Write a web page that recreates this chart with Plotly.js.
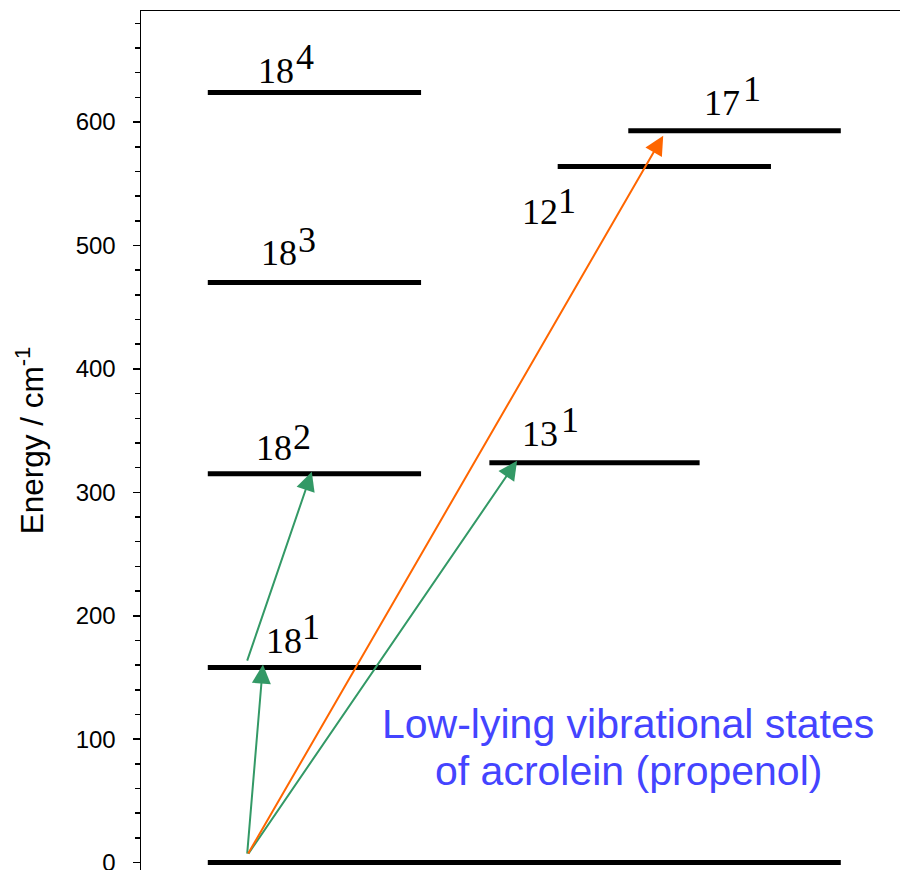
<!DOCTYPE html>
<html><head><meta charset="utf-8">
<script src="https://cdn.plot.ly/plotly-3.0.1.min.js"></script>
<style>html,body{margin:0;padding:0;background:#fff}#chart{width:900px;height:870px}</style>
</head><body><div id="chart"></div>
<script>
// ---------- data ----------
const stateNames    = ['ground', '18^1', '18^2', '18^3', '18^4', '13^1', '12^1', '17^1'];
const labelBase     = ['',  '18', '18', '18', '18', '13', '12', '17'];
const labelSup      = ['',  '1',  '2',  '3',  '4',  '1',  '1',  '1'];
const stateEnergies = [0, 158, 315, 470, 624, 324, 564, 593];   // cm^-1

const transitionFrom  = [0, 1, 0, 0];
const transitionTo    = [1, 2, 5, 7];
const transitionColor = ['green', 'green', 'green', 'orange'];

const yTickVals = [0, 100, 200, 300, 400, 500, 600];
const yTickText = ['0', '100', '200', '300', '400', '500', '600'];

const titleText  = 'Energy / cm<sup>-1</sup>';
const noteLines  = ['Low-lying vibrational states', 'of acrolein (propenol)'];

// ---------- layout / placement (not data) ----------
const W = 900, H = 870, M = {l: 141, r: 0, t: 11, b: 0};
const Y_RANGE = [-6, 690], X_RANGE = [0, 100];
const pxPerE = (H - M.t - M.b) / (Y_RANGE[1] - Y_RANGE[0]);
const px2e = p => p / pxPerE;

const levelX0 = [8.8, 8.8, 8.8, 8.8, 8.8, 45.9, 54.9, 64.2];
const levelX1 = [92.2, 36.9, 36.9, 36.9, 36.9, 73.6, 83.0, 92.2];

// label placement: base box-left x, sup box-left x, baseline gap above level (px), sup raise (px)
const labelX     = [0, 16.2, 14.9, 15.55, 15.15, 49.9, 49.9, 73.9];
const labelSupX  = [0, 20.9, 19.75, 20.4, 20.2, 55.05, 54.7, 79.1];
const labelGapPx = [0, 15, 14, 18, 9, 17, -57, 16];
const supRaisePx = [0, 14, 11, 13, 14, 14, 11, 14];
const BASE_DESC = 10;   // box bottom below baseline

const arrowTailX = [13.97, 13.9, 13.97, 13.97];
const arrowHeadX = [16.07, 22.5, 49.55, 68.8];
const arrowTailGapPx = [7, 5, 7, 7];
const arrowHeadGapPx = [3, 2, 2, -5];

const COLORS = {green: '#339966', orange: '#ff6600'};
const SANS = 'Liberation Sans, Arial, sans-serif';
const SERIF = 'Liberation Serif, Times New Roman, serif';

// ---------- traces ----------
const traces = stateEnergies.map((e, i) => ({
  type: 'scatter', mode: 'lines', name: stateNames[i],
  x: [levelX0[i], levelX1[i]], y: [e, e],
  line: {color: '#000', width: 5},
  hoverinfo: 'skip', showlegend: false
}));

// ---------- annotations ----------
const ann = [];
stateEnergies.forEach((e, i) => {
  if (!labelBase[i]) return;
  ann.push({x: labelX[i], y: e, xref: 'x', yref: 'y', xanchor: 'left', yanchor: 'bottom',
    yshift: labelGapPx[i] - BASE_DESC, text: labelBase[i], showarrow: false,
    font: {family: SERIF, size: 36, color: '#000'}});
  ann.push({x: labelSupX[i], y: e, xref: 'x', yref: 'y', xanchor: 'left', yanchor: 'bottom',
    yshift: labelGapPx[i] + supRaisePx[i] - BASE_DESC, text: labelSup[i], showarrow: false,
    font: {family: SERIF, size: 36, color: '#000'}});
});
transitionFrom.forEach((f, k) => {
  const t = transitionTo[k];
  ann.push({
    x: arrowHeadX[k], y: stateEnergies[t] + px2e(arrowHeadGapPx[k]),
    ax: arrowTailX[k], ay: stateEnergies[f] + px2e(arrowTailGapPx[k]),
    xref: 'x', yref: 'y', axref: 'x', ayref: 'y', text: ' ',
    font: {size: 1},
    showarrow: true, arrowhead: 2, arrowsize: 1.9, arrowwidth: 2,
    arrowcolor: COLORS[transitionColor[k]], standoff: 0, startstandoff: 0
  });
});
const noteX = 64.2, noteBaseGapPx = [124.5, 77.5]; // baseline heights above E=0
noteLines.forEach((s, j) => {
  ann.push({x: noteX, y: 0, xref: 'x', yref: 'y', xanchor: 'center', yanchor: 'bottom',
    yshift: noteBaseGapPx[j] - 11, text: s, showarrow: false,
    font: {family: SANS, size: 41, color: '#4444ff'}});
});

const layout = {
  width: W, height: H, margin: M, paper_bgcolor: '#fff', plot_bgcolor: '#fff',
  showlegend: false,
  xaxis: {range: X_RANGE, side: 'top', showline: true, linecolor: '#000', linewidth: 1.5,
    showgrid: false, zeroline: false, ticks: '', showticklabels: false, fixedrange: true},
  yaxis: {range: Y_RANGE, showline: true, linecolor: '#000', linewidth: 1.5,
    showgrid: false, zeroline: false, tickmode: 'array', tickvals: yTickVals, ticktext: yTickText,
    ticks: 'outside', ticklen: 7, tickwidth: 1.5, tickcolor: '#000', ticklabelstandoff: 12,
    ticklabeloverflow: 'allow',
    tickfont: {family: SANS, size: 24, color: '#000'},
    minor: {dtick: 20, ticks: 'outside', ticklen: 5, tickwidth: 1.5, tickcolor: '#000', showgrid: false},
    title: {text: titleText, font: {family: SANS, size: 31.5, color: '#000'}, standoff: 22},
    fixedrange: true},
  annotations: ann
};
Plotly.newPlot('chart', traces, layout, {displayModeBar: false, staticPlot: true});
</script></body></html>
